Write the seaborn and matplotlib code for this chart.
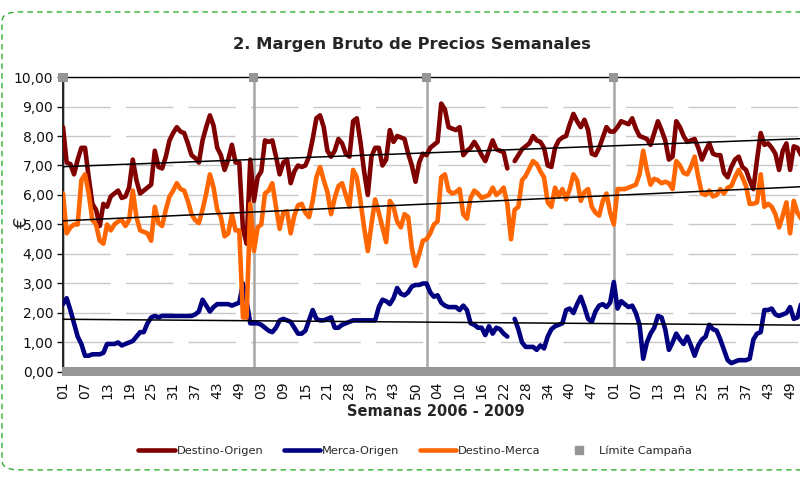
import numpy as np
import pandas as pd
import matplotlib
matplotlib.use("Agg")
import matplotlib.pyplot as plt
import seaborn as sns
from matplotlib.lines import Line2D
from matplotlib.patches import FancyBboxPatch
from matplotlib.ticker import FuncFormatter

nan = np.nan

# Margen Destino-Origen (EUR), semanas 2006-2009
destino_origen = [
    8.3, 7.1, 7.05, 6.7, 7.2, 7.6, 7.6, 6.6, 5.7, 5.5, 4.95, 5.7, 5.6, 5.95, 6.05, 6.15, 5.9, 5.95, 6.25, 7.2,
    6.5, 6.05, 6.15, 6.25, 6.35, 7.5, 6.95, 6.9, 7.3, 7.85, 8.1, 8.3, 8.15, 8.1, 7.75, 7.35, 7.25, 7.1, 7.85, 8.3,
    8.7, 8.35, 7.6, 7.35, 6.85, 7.2, 7.7, 7.1, 7.1, 4.85, 4.35, 7.2,
    5.8, 6.6, 6.8, 7.85, 7.8, 7.85, 7.3, 6.7, 7.1, 7.2, 6.4, 6.8, 7.0, 6.95, 7.0, 7.3, 7.9, 8.6, 8.7, 8.3,
    7.5, 7.3, 7.5, 7.9, 7.75, 7.4, 7.3, 8.5, 8.6, 7.8, 6.8, 6.0, 7.3, 7.6, 7.6, 7.0, 7.2, 8.2, 7.8, 8.0,
    7.95, 7.9, 7.4, 7.0, 6.45, 7.1, 7.4,
    7.35, 7.6, 7.7, 7.8, 9.1, 8.9, 8.3, 8.25, 8.2, 8.3, 7.35, 7.5, 7.6, 7.8, 7.6, 7.35, 7.15, 7.5, 7.85, 7.55,
    7.5, 7.45, 6.9, nan, 7.15, 7.35, 7.55, 7.65, 7.75, 8.0, 7.85, 7.8, 7.6, 7.0, 6.95, 7.6, 7.85, 7.95, 8.0, 8.4,
    8.75, 8.5, 8.3, 8.55, 8.2, 7.4, 7.35, 7.6, 7.95, 8.3, 8.15,
    8.15, 8.3, 8.5, 8.45, 8.4, 8.6, 8.25, 8.0, 7.95, 7.9, 7.7, 8.1, 8.5, 8.2, 7.85, 7.2, 7.3, 8.5, 8.3, 8.0,
    7.8, 7.85, 7.9, 7.6, 7.2, 7.5, 7.75, 7.4, 7.35, 7.35, 6.75, 6.6, 6.95, 7.2, 7.3, 6.95, 6.85, 6.5, 6.2, 7.2,
    8.1, 7.7, 7.75, 7.6, 7.4, 6.85, 7.5, 7.75, 6.85, 7.65, 7.6, 7.35,
]

merca_origen = [
    2.3, 2.5, 2.1, 1.65, 1.2, 0.95, 0.55, 0.55, 0.6, 0.6, 0.6, 0.65, 0.95, 0.95, 0.95, 1.0, 0.9, 0.95, 1.0, 1.05,
    1.2, 1.35, 1.35, 1.65, 1.85, 1.9, 1.85, 1.9, 1.9, 1.9, 1.9, 1.9, 1.9, 1.9, 1.9, 1.9, 1.95, 2.05, 2.45, 2.25,
    2.05, 2.2, 2.3, 2.3, 2.3, 2.3, 2.25, 2.3, 2.35, 3.0, 2.4, 1.65,
    1.65, 1.65, 1.6, 1.5, 1.4, 1.35, 1.5, 1.75, 1.8, 1.75, 1.7, 1.5, 1.3, 1.3, 1.4, 1.75, 2.1, 1.8, 1.75, 1.75,
    1.8, 1.85, 1.5, 1.5, 1.6, 1.65, 1.7, 1.75, 1.75, 1.75, 1.75, 1.75, 1.75, 1.75, 2.2, 2.45, 2.4, 2.3, 2.5, 2.85,
    2.65, 2.6, 2.7, 2.9, 2.95, 2.95, 3.0,
    3.0, 2.7, 2.55, 2.6, 2.35, 2.25, 2.2, 2.2, 2.2, 2.1, 2.25, 2.1, 1.65, 1.6, 1.5, 1.5, 1.25, 1.55, 1.3, 1.5,
    1.45, 1.3, 1.2, nan, 1.8, 1.45, 1.0, 0.85, 0.85, 0.85, 0.75, 0.9, 0.8, 1.2, 1.45, 1.55, 1.6, 1.65, 2.1, 2.15,
    2.0, 2.3, 2.55, 2.2, 1.8, 1.7, 2.05, 2.25, 2.3, 2.2, 2.35,
    3.05, 2.15, 2.4, 2.3, 2.2, 2.25, 2.0, 1.6, 0.45, 1.0, 1.3, 1.5, 1.9, 1.85, 1.45, 0.75, 1.0, 1.3, 1.1, 0.95,
    1.2, 0.9, 0.55, 0.9, 1.1, 1.2, 1.6, 1.45, 1.4, 1.1, 0.75, 0.4, 0.3, 0.35, 0.4, 0.4, 0.4, 0.45, 1.1, 1.3,
    1.35, 2.1, 2.1, 2.15, 1.95, 1.9, 1.95, 2.0, 2.2, 1.8, 1.85, 2.3,
]

destino_merca = [
    6.05, 4.7, 4.9, 5.0, 5.0, 6.5, 6.7, 6.05, 5.15, 5.0, 4.45, 4.35, 5.0, 4.8, 5.0, 5.1, 5.15, 4.95, 5.15, 6.15,
    5.25, 4.8, 4.75, 4.7, 4.45, 5.6, 5.05, 4.95, 5.5, 5.95, 6.15, 6.4, 6.2, 6.15, 5.8, 5.35, 5.15, 5.05, 5.5, 6.05,
    6.7, 6.25, 5.5, 5.25, 4.6, 4.7, 5.35, 4.8, 4.8, 1.85, 1.85, 5.7,
    4.1, 4.9, 5.0, 6.05, 6.15, 6.4, 5.6, 4.85, 5.4, 5.45, 4.7, 5.3, 5.65, 5.7, 5.4, 5.25, 5.8, 6.6, 6.95, 6.5,
    6.1, 5.35, 5.9, 6.3, 6.4, 6.0, 5.6, 6.85, 6.6, 5.8, 4.9, 4.1, 5.0, 5.85, 5.4, 4.9, 4.4, 5.8, 5.6, 5.1,
    4.9, 5.35, 5.25, 4.2, 3.6, 4.0, 4.45,
    4.5, 4.7, 5.0, 5.1, 6.6, 6.7, 6.15, 6.05, 6.1, 6.2, 5.35, 5.2, 5.9, 6.15, 6.05, 5.9, 5.95, 6.0, 6.25, 6.0,
    6.1, 6.25, 5.7, 4.5, 5.5, 5.6, 6.5, 6.65, 6.9, 7.15, 7.05, 6.8, 6.6, 5.75, 5.6, 6.25, 5.95, 6.2, 5.85, 6.2,
    6.7, 6.5, 5.8, 6.1, 6.2, 5.6, 5.4, 5.3, 5.8, 6.05, 5.4,
    5.0, 6.2, 6.2, 6.2, 6.25, 6.3, 6.35, 6.7, 7.5, 6.85, 6.35, 6.55, 6.5, 6.4, 6.45, 6.4, 6.2, 7.15, 7.0, 6.75,
    6.7, 6.95, 7.3, 6.6, 6.05, 6.0, 6.15, 5.95, 6.0, 6.2, 6.05, 6.25, 6.3, 6.6, 6.85, 6.6, 6.3, 5.7, 5.7, 5.75,
    6.7, 5.6, 5.7, 5.6, 5.35, 4.9, 5.3, 5.75, 4.7, 5.8, 5.4, 5.2,
]

# primera semana de cada campaña (posicion en la serie)
inicio_campana = [0, 52, 99, 150]

etiquetas_semana = ["01", "07", "13", "19", "25", "31", "37", "43", "49",
                    "03", "09", "15", "21", "28", "37", "43", "50",
                    "04", "10", "16", "22", "28", "34", "40", "47",
                    "01", "07", "13", "19", "25", "31", "37", "43", "49"]

series = {"Destino-Origen": destino_origen,
          "Merca-Origen": merca_origen,
          "Destino-Merca": destino_merca}
colores = {"Destino-Origen": "#800000", "Merca-Origen": "#000080", "Destino-Merca": "#FF6600"}
gris = "#969696"

n = len(destino_origen)
semana = np.arange(n)

limite = np.zeros(n)
limite[inicio_campana] = 10

sns.set_style("white")
plt.rcParams["font.family"] = ["DejaVu Sans"]

fig = plt.figure(figsize=(8, 4.78), dpi=100)
ax = fig.add_axes([0.07875, 0.2218, 0.92125, 0.6171])

# lineas de series (cortadas donde falta el dato)
for nombre, valores in series.items():
    d = pd.DataFrame({"semana": semana, "valor": valores})
    d["tramo"] = d["valor"].isna().cumsum()
    d = d.dropna()
    sns.lineplot(data=d, x="semana", y="valor", units="tramo", estimator=None, ax=ax,
                 color=colores[nombre], linewidth=3.3, legend=False, zorder=3)

# lineas de tendencia
for nombre, valores in series.items():
    v = np.array(valores, dtype=float)
    ok = ~np.isnan(v)
    coef = np.polyfit(semana[ok], v[ok], 1)
    ax.plot([0, n - 1], np.polyval(coef, [0, n - 1]), color="black", lw=1.1, zorder=4)

# limite campaña
ax.vlines(inicio_campana, 0, 10, color="#a6a6a6", lw=1.8, zorder=2)
sns.scatterplot(x=semana, y=limite, ax=ax, marker="s", s=42, color=gris,
                edgecolor="none", legend=False, zorder=5, clip_on=False)

ax.set_xlim(0, 200.7)
ax.set_ylim(0, 10)
ax.set_yticks(np.arange(0, 11, 1))
ax.yaxis.set_major_formatter(FuncFormatter(lambda v, p: f"{v:.2f}".replace(".", ",")))
ax.set_xticks(np.arange(0, 6 * len(etiquetas_semana), 6))
ax.set_xticklabels(etiquetas_semana, rotation=90)
ax.tick_params(axis="y", length=4, width=1, pad=3, labelsize=10, colors="#111111", direction="out", left=True)
ax.tick_params(axis="x", length=0, pad=7, labelsize=10, colors="#111111")
ax.set_xlabel("")
ax.set_ylabel("")

ax.yaxis.grid(True, color="#c8c8c8", lw=1, linestyle=(0, (34, 11)))
ax.xaxis.grid(False)
ax.set_axisbelow(True)

for lado in ["right", "bottom"]:
    ax.spines[lado].set_visible(False)
ax.spines["top"].set_color("black")
ax.spines["top"].set_linewidth(1)
ax.spines["left"].set_color("#222222")
ax.spines["left"].set_linewidth(1.4)

fig.text(0.515, 0.906, "2. Margen Bruto de Precios Semanales", ha="center", va="center",
         fontsize=11.8, fontweight="bold")
fig.text(0.545, 0.14, "Semanas 2006 - 2009", ha="center", va="center",
         fontsize=10.5, fontweight="bold")
fig.text(0.0275, 0.5356, "€", rotation=90, ha="center", va="center", fontsize=13)

handles = [Line2D([], [], color=colores[k], lw=3.3) for k in series]
handles.append(Line2D([], [], color=gris, marker="s", ls="none", markersize=6))
fig.legend(handles, list(series) + ["Límite Campaña"], loc="center", bbox_to_anchor=(0.519, 0.058),
           ncol=4, frameon=False, fontsize=8.2, handlelength=3.2, handletextpad=0.15, columnspacing=1.8)

borde = FancyBboxPatch((0.0025, 0.017), 1.2, 0.958, boxstyle="round,pad=0,rounding_size=0.02",
                       transform=fig.transFigure, fill=False, ec="#33b033", lw=1, ls=(0, (4, 3)))
fig.patches.append(borde)

fig.savefig("out.png", dpi=100)
